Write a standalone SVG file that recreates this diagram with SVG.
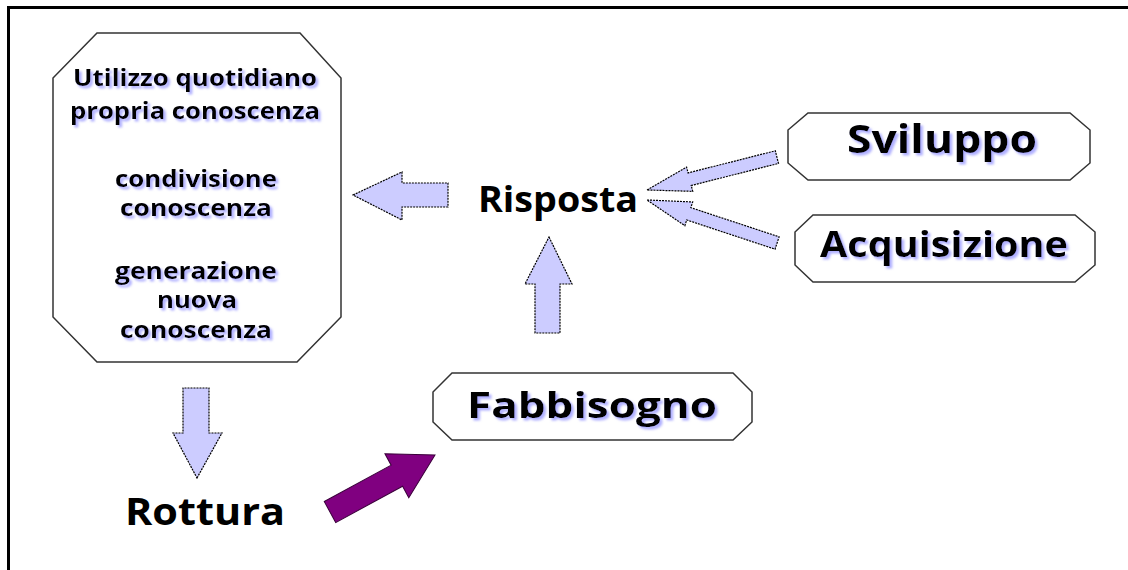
<svg xmlns="http://www.w3.org/2000/svg" width="1128" height="570" viewBox="0 0 1128 570">
  <defs>
    <filter id="shadow" x="-10%" y="-20%" width="130%" height="160%">
      <feDropShadow dx="2.5" dy="2.5" stdDeviation="0.8" flood-color="#a0a0ff" flood-opacity="0.85"/>
    </filter>
  </defs>
  <style>
    .frame { fill: none; stroke: #000; stroke-width: 3; }
    .box { fill: #fff; stroke: #333; stroke-width: 1.5; }
    .txt { font-family: "Open Sans", "DejaVu Sans", sans-serif; font-weight: 700; fill: #000; text-anchor: middle; }
    .shd { filter: url(#shadow); }
    .blk { fill: #ccccff; stroke: #000; stroke-width: 1.2; stroke-dasharray: 2 1; }
    .pur { fill: #800080; stroke: #3a003a; stroke-width: 1; }
  </style>

  <rect x="8.5" y="7.5" width="1200" height="600" class="frame"/>

  <g id="node-utilizzo">
    <polygon class="box" points="97,33 300,33 341,78 341,317 297,362 97,362 53,317 53,78"/>
    <g class="txt shd" font-size="23" lengthAdjust="spacingAndGlyphs">
      <text x="195" y="86" textLength="244" lengthAdjust="spacingAndGlyphs">Utilizzo quotidiano</text>
      <text x="195" y="119" textLength="250" lengthAdjust="spacingAndGlyphs">propria conoscenza</text>
      <text x="196" y="187" textLength="162" lengthAdjust="spacingAndGlyphs">condivisione</text>
      <text x="196" y="216" textLength="152" lengthAdjust="spacingAndGlyphs">conoscenza</text>
      <text x="196" y="279" textLength="162" lengthAdjust="spacingAndGlyphs">generazione</text>
      <text x="197" y="308" textLength="80" lengthAdjust="spacingAndGlyphs">nuova</text>
      <text x="196" y="338" textLength="152" lengthAdjust="spacingAndGlyphs">conoscenza</text>
    </g>
  </g>

  <g id="node-risposta">
    <text class="txt" x="558" y="212" font-size="35" textLength="160" lengthAdjust="spacingAndGlyphs">Risposta</text>
  </g>

  <g id="node-sviluppo">
    <polygon class="box" points="808,113 1070,113 1090,130 1090,163 1070,180 808,180 788,163 788,130"/>
    <text class="txt shd" x="942" y="153" font-size="39" textLength="190" lengthAdjust="spacingAndGlyphs">Sviluppo</text>
  </g>

  <g id="node-acquisizione">
    <polygon class="box" points="813,215 1075,215 1095,232 1095,265 1075,282 813,282 795,265 795,232"/>
    <text class="txt shd" x="944" y="257" font-size="35" textLength="248" lengthAdjust="spacingAndGlyphs">Acquisizione</text>
  </g>

  <g id="node-fabbisogno">
    <polygon class="box" points="452,373 733,373 752,392 752,422 733,440 452,440 433,422 433,392"/>
    <text class="txt shd" x="592" y="418" font-size="35" textLength="250" lengthAdjust="spacingAndGlyphs">Fabbisogno</text>
  </g>

  <g id="node-rottura">
    <text class="txt" x="205" y="525" font-size="37" textLength="160" lengthAdjust="spacingAndGlyphs">Rottura</text>
  </g>

  <g id="connectors">
    <!-- Risposta to knowledge block -->
    <polygon class="blk" points="353,195 402,172 402,183 448,183 448,207 402,207 402,220"/>
    <!-- Fabbisogno up to Risposta -->
    <polygon class="blk" points="549,237 572,284 560,284 560,333 535,333 535,284 525,284"/>
    <!-- knowledge block down to Rottura -->
    <polygon class="blk" points="197,478 222,433 209,433 209,388 183,388 183,433 173,433"/>
    <!-- Sviluppo to Risposta -->
    <g transform="translate(647,190) rotate(-14.2)">
      <polygon class="blk" points="0,0 44,-12.5 44,-6.5 134,-6.5 134,6.5 44,6.5 44,12.5"/>
    </g>
    <!-- Acquisizione to Risposta -->
    <g transform="translate(647,200) rotate(18.3)">
      <polygon class="blk" points="0,0 44,-12.5 44,-6.5 137,-6.5 137,6.5 44,6.5 44,12.5"/>
    </g>
    <!-- Rottura to Fabbisogno -->
    <g transform="translate(435,455) rotate(151.5)">
      <polygon class="pur" points="0,0 43.4,-25 43.4,-12 119.5,-12 119.5,12 43.4,12 43.4,25"/>
    </g>
  </g>
</svg>
